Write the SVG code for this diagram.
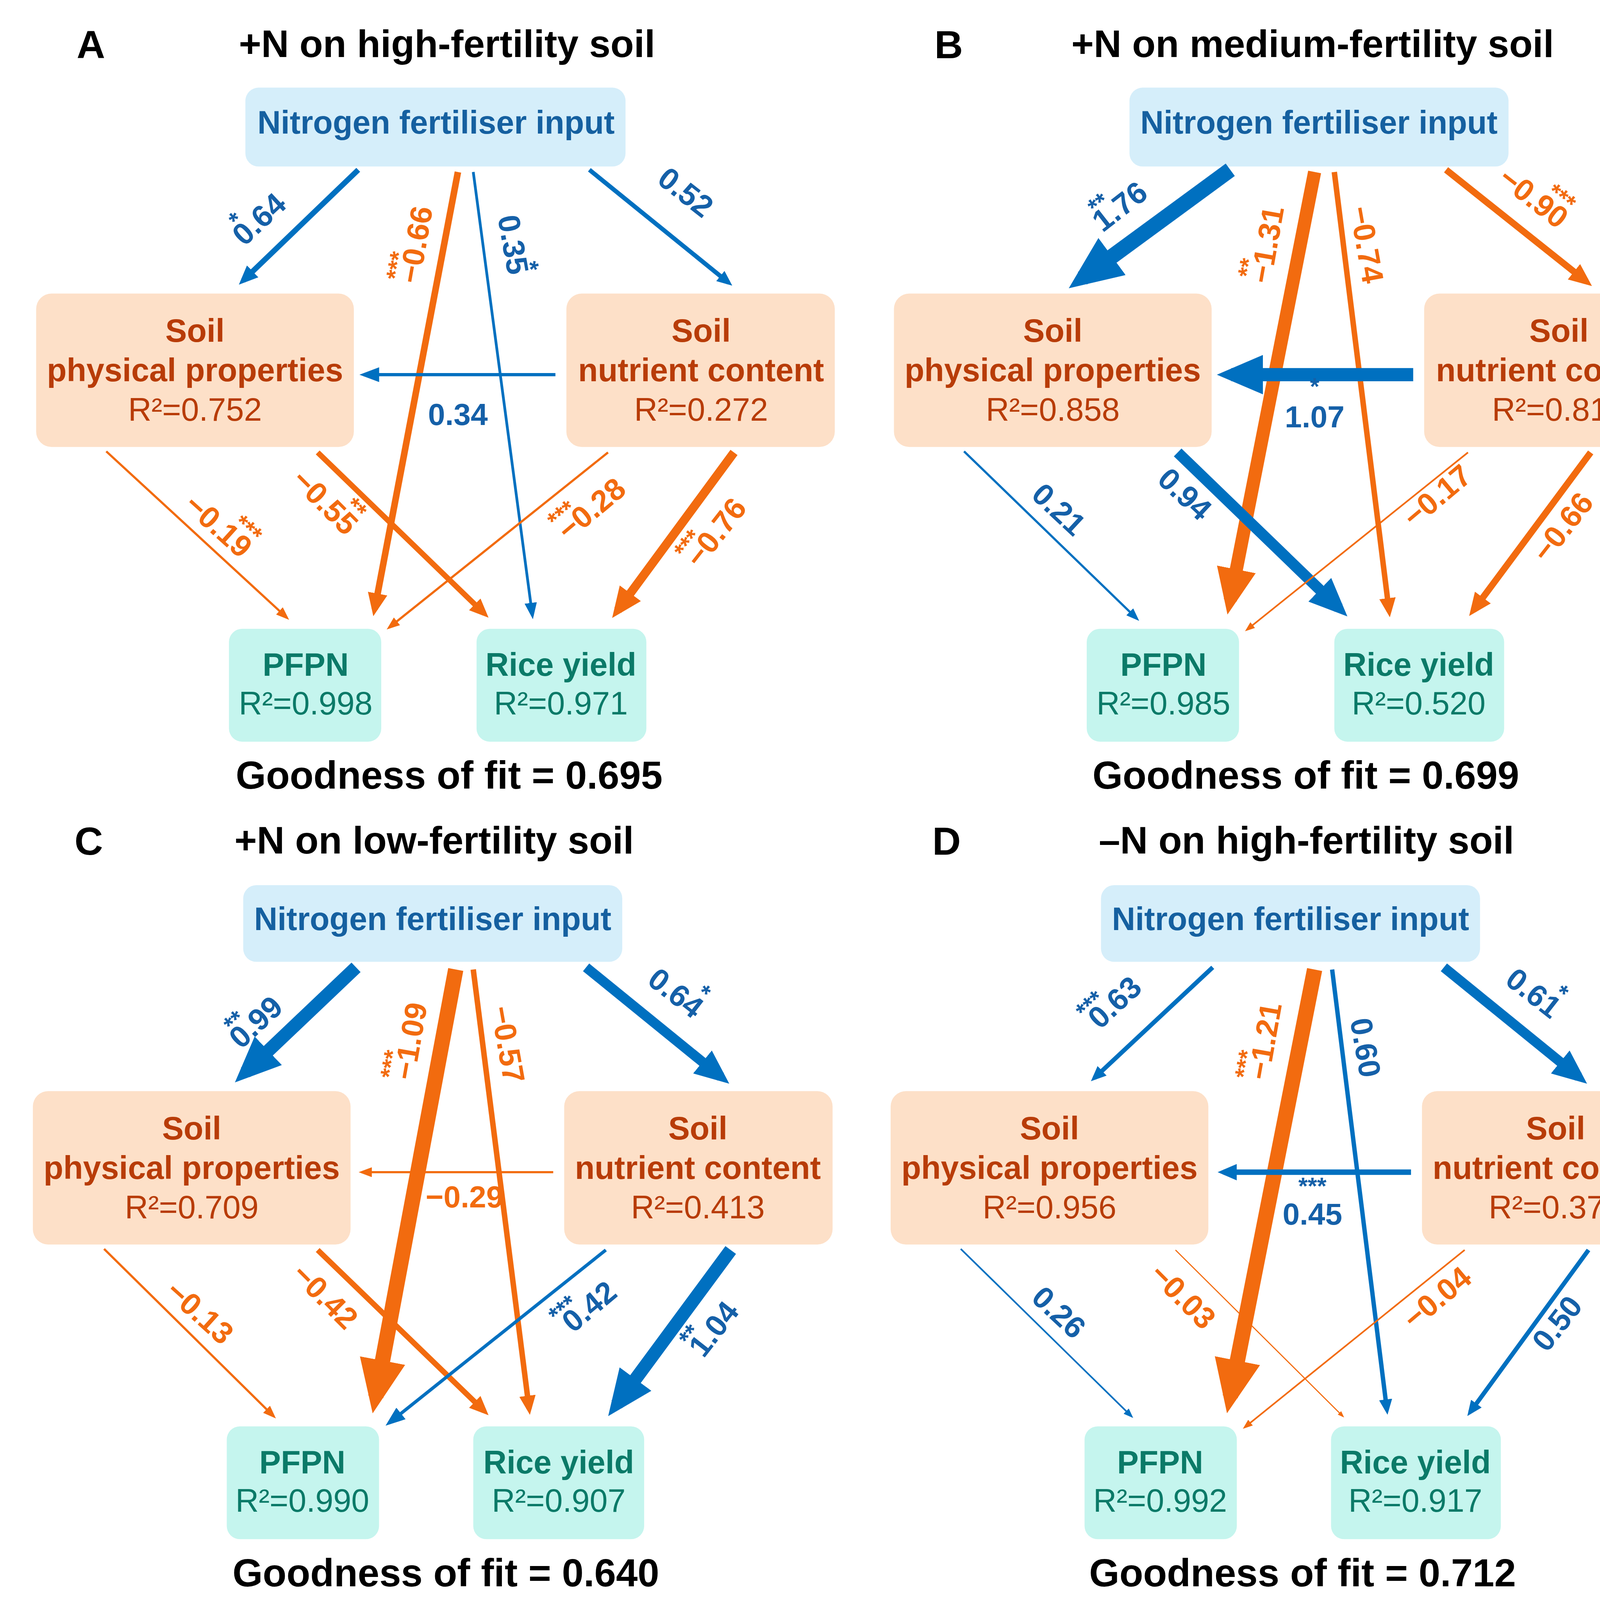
<svg xmlns="http://www.w3.org/2000/svg" width="4375" height="4266" viewBox="0 0 4375 4266">
<style>
text{font-family:"Liberation Sans",Arial,sans-serif}
.ttl{font-size:35px;font-weight:bold;fill:#000}
.pl{font-size:36px;font-weight:bold;fill:#000}
.nb{fill:#d5eefa}.nt{font-size:29.5px;font-weight:bold;fill:#1560a0;text-anchor:middle}
.sb{fill:#fde0c8}.st1{font-size:29.5px;font-weight:bold;fill:#b83c08;text-anchor:middle}.st2{font-size:29.5px;fill:#b83c08;text-anchor:middle}
.ob{fill:#c5f5ee}.ot1{font-size:29.5px;font-weight:bold;fill:#0b7a68;text-anchor:middle}.ot2{font-size:29.5px;fill:#0b7a68;text-anchor:middle}
.gf{font-size:35.5px;font-weight:bold;fill:#000;text-anchor:middle}
.b{stroke:#0070c0;fill:none}.o{stroke:#f26b0f;fill:none}
.lb{font-size:28px;font-weight:bold;fill:#1560a8;text-anchor:middle}
.lo{font-size:28px;font-weight:bold;fill:#f26b0f;text-anchor:middle}
.s{font-size:22px}
.lg{font-size:35px;fill:#000}
</style>
<defs>
<marker id="mb" viewBox="0 0 3.5 3" markerWidth="3.5" markerHeight="3" refX="2.4" refY="1.5" orient="auto" markerUnits="strokeWidth"><path d="M0,0L3.5,1.5L0,3z" fill="#0070c0"/></marker>
<marker id="mo" viewBox="0 0 3.5 3" markerWidth="3.5" markerHeight="3" refX="2.4" refY="1.5" orient="auto" markerUnits="strokeWidth"><path d="M0,0L3.5,1.5L0,3z" fill="#f26b0f"/></marker>
<marker id="sb" viewBox="0 0 6 4.5" markerWidth="6" markerHeight="4.5" refX="4.7" refY="2.25" orient="auto" markerUnits="strokeWidth"><path d="M0,0L6,2.25L0,4.5z" fill="#0070c0"/></marker>
<marker id="so" viewBox="0 0 6 4.5" markerWidth="6" markerHeight="4.5" refX="4.7" refY="2.25" orient="auto" markerUnits="strokeWidth"><path d="M0,0L6,2.25L0,4.5z" fill="#f26b0f"/></marker>
</defs>
<rect width="4375" height="4266" fill="#fff"/>
<g transform="scale(2.8045)">
<!-- Panel A -->
<text class="pl" x="70" y="53">A</text><text class="ttl" x="218" y="52">+N on high-fertility soil</text>
<g id="A-N"><rect class="nb" x="224" y="80" width="347" height="72" rx="12"/><text class="nt" x="398" y="122">Nitrogen fertiliser input</text></g>
<g id="A-SP"><rect class="sb" x="33" y="268" width="290" height="140" rx="14"/><text class="st1" x="178" y="312">Soil</text><text class="st1" x="178" y="348">physical properties</text><text class="st2" x="178" y="384">R²=0.752</text></g>
<g id="A-SN"><rect class="sb" x="517" y="268" width="245" height="140" rx="14"/><text class="st1" x="640" y="312">Soil</text><text class="st1" x="640" y="348">nutrient content</text><text class="st2" x="640" y="384">R²=0.272</text></g>
<g id="A-P"><rect class="ob" x="209" y="574" width="139" height="103" rx="12"/><text class="ot1" x="279" y="617">PFPN</text><text class="ot2" x="279" y="652">R²=0.998</text></g>
<g id="A-R"><rect class="ob" x="435" y="574" width="155" height="103" rx="12"/><text class="ot1" x="512" y="617">Rice yield</text><text class="ot2" x="512" y="652">R²=0.971</text></g>
<text class="gf" x="410" y="720">Goodness of fit = 0.695</text>
<g id="A-edges">
<line class="b" x1="327" y1="155" x2="222" y2="256" stroke-width="5" marker-end="url(#mb)"/>
<line class="o" x1="418" y1="157" x2="342" y2="556" stroke-width="6" marker-end="url(#mo)"/>
<line class="b" x1="432" y1="157" x2="486" y2="562" stroke-width="2.5" marker-end="url(#sb)"/>
<line class="b" x1="538" y1="155" x2="665" y2="258" stroke-width="4" marker-end="url(#mb)"/>
<line class="b" x1="507" y1="342" x2="332" y2="342" stroke-width="3" marker-end="url(#sb)"/>
<line class="o" x1="97" y1="412" x2="262" y2="564" stroke-width="2" marker-end="url(#so)"/>
<line class="o" x1="290" y1="413" x2="442" y2="560" stroke-width="5" marker-end="url(#mo)"/>
<line class="o" x1="555" y1="413" x2="355" y2="573" stroke-width="2" marker-end="url(#so)"/>
<line class="o" x1="670" y1="413" x2="564" y2="557" stroke-width="8" marker-end="url(#mo)"/>
<text class="lb" transform="translate(243,207) rotate(-43)"><tspan class="s" x="-16" dy="-16">*</tspan><tspan x="0" dy="16">0.64</tspan></text>
<text class="lo" transform="translate(389,225) rotate(-80)"><tspan class="s" x="-22" dy="-16">***</tspan><tspan x="0" dy="16">−0.66</tspan></text>
<text class="lb" transform="translate(459,225) rotate(80)"><tspan x="0">0.35</tspan><tspan class="s" x="22" dy="-14">*</tspan></text>
<text class="lb" transform="translate(620,183) rotate(38)">0.52</text>
<text class="lb" x="418" y="388">0.34</text>
<text class="lo" transform="translate(193,487) rotate(42)"><tspan x="0">−0.19</tspan><tspan class="s" x="22" dy="-18">***</tspan></text>
<text class="lo" transform="translate(290,465) rotate(45)"><tspan x="0">−0.55</tspan><tspan class="s" x="24" dy="-18">**</tspan></text>
<text class="lo" transform="translate(546,472) rotate(-40)"><tspan class="s" x="-24" dy="-16">***</tspan><tspan x="0" dy="16">−0.28</tspan></text>
<text class="lo" transform="translate(661,492) rotate(-52)"><tspan class="s" x="-24" dy="-16">***</tspan><tspan x="0" dy="16">−0.76</tspan></text>
</g>
<!-- Panel B -->
<text class="pl" x="853" y="53">B</text><text class="ttl" x="978" y="52">+N on medium-fertility soil</text>
<g id="B-N"><rect class="nb" x="1031" y="80" width="346" height="72" rx="12"/><text class="nt" x="1204" y="122">Nitrogen fertiliser input</text></g>
<g id="B-SP"><rect class="sb" x="816" y="268" width="290" height="140" rx="14"/><text class="st1" x="961" y="312">Soil</text><text class="st1" x="961" y="348">physical properties</text><text class="st2" x="961" y="384">R²=0.858</text></g>
<g id="B-SN"><rect class="sb" x="1300" y="268" width="245" height="140" rx="14"/><text class="st1" x="1423" y="312">Soil</text><text class="st1" x="1423" y="348">nutrient content</text><text class="st2" x="1423" y="384">R²=0.810</text></g>
<g id="B-P"><rect class="ob" x="992" y="574" width="139" height="103" rx="12"/><text class="ot1" x="1062" y="617">PFPN</text><text class="ot2" x="1062" y="652">R²=0.985</text></g>
<g id="B-R"><rect class="ob" x="1218" y="574" width="155" height="103" rx="12"/><text class="ot1" x="1295" y="617">Rice yield</text><text class="ot2" x="1295" y="652">R²=0.520</text></g>
<text class="gf" x="1192" y="720">Goodness of fit = 0.699</text>
<g id="B-edges">
<line class="b" x1="1123" y1="155" x2="988" y2="254" stroke-width="14" marker-end="url(#mb)"/>
<line class="o" x1="1200" y1="157" x2="1123" y2="548" stroke-width="12" marker-end="url(#mo)"/>
<line class="o" x1="1218" y1="157" x2="1268" y2="558" stroke-width="5" marker-end="url(#mo)"/>
<line class="o" x1="1320" y1="155" x2="1448" y2="257" stroke-width="6" marker-end="url(#mo)"/>
<line class="b" x1="1290" y1="342" x2="1124" y2="342" stroke-width="12" marker-end="url(#mb)"/>
<line class="b" x1="880" y1="412" x2="1038" y2="565" stroke-width="2" marker-end="url(#sb)"/>
<line class="b" x1="1075" y1="413" x2="1222" y2="555" stroke-width="10" marker-end="url(#mb)"/>
<line class="o" x1="1340" y1="413" x2="1138" y2="575" stroke-width="1.5" marker-end="url(#so)"/>
<line class="o" x1="1452" y1="413" x2="1345" y2="557" stroke-width="6" marker-end="url(#mo)"/>
<text class="lb" transform="translate(1028,196) rotate(-38)"><tspan class="s" x="-14" dy="-16">**</tspan><tspan x="0" dy="16">1.76</tspan></text>
<text class="lo" transform="translate(1166,225) rotate(-80)"><tspan class="s" x="-24" dy="-16">**</tspan><tspan x="0" dy="16">−1.31</tspan></text>
<text class="lo" transform="translate(1238,225) rotate(80)">−0.74</text>
<text class="lo" transform="translate(1394,188) rotate(38)"><tspan x="0">−0.90</tspan><tspan class="s" x="20" dy="-18">***</tspan></text>
<text class="lb" x="1200" y="390">1.07</text><text class="lb s" x="1200" y="360">*</text>
<text class="lb" transform="translate(960,472) rotate(43)">0.21</text>
<text class="lb" transform="translate(1075,458) rotate(43)">0.94</text>
<text class="lo" transform="translate(1318,460) rotate(-40)">−0.17</text>
<text class="lo" transform="translate(1434,487) rotate(-52)">−0.66</text>
</g>
<!-- Panel C -->
<text class="pl" x="68" y="780">C</text><text class="ttl" x="214" y="779">+N on low-fertility soil</text>
<g id="C-N"><rect class="nb" x="222" y="808" width="346" height="70" rx="12"/><text class="nt" x="395" y="849">Nitrogen fertiliser input</text></g>
<g id="C-SP"><rect class="sb" x="30" y="996" width="290" height="140" rx="14"/><text class="st1" x="175" y="1040">Soil</text><text class="st1" x="175" y="1076">physical properties</text><text class="st2" x="175" y="1112">R²=0.709</text></g>
<g id="C-SN"><rect class="sb" x="515" y="996" width="245" height="140" rx="14"/><text class="st1" x="637" y="1040">Soil</text><text class="st1" x="637" y="1076">nutrient content</text><text class="st2" x="637" y="1112">R²=0.413</text></g>
<g id="C-P"><rect class="ob" x="207" y="1302" width="139" height="103" rx="12"/><text class="ot1" x="276" y="1345">PFPN</text><text class="ot2" x="276" y="1380">R²=0.990</text></g>
<g id="C-R"><rect class="ob" x="432" y="1302" width="156" height="103" rx="12"/><text class="ot1" x="510" y="1345">Rice yield</text><text class="ot2" x="510" y="1380">R²=0.907</text></g>
<text class="gf" x="407" y="1448">Goodness of fit = 0.640</text>
<g id="C-edges">
<line class="b" x1="325" y1="883" x2="224" y2="979" stroke-width="12" marker-end="url(#mb)"/>
<line class="o" x1="416" y1="885" x2="343" y2="1275" stroke-width="14" marker-end="url(#mo)"/>
<line class="o" x1="432" y1="885" x2="483" y2="1286" stroke-width="5" marker-end="url(#mo)"/>
<line class="b" x1="535" y1="883" x2="658" y2="983" stroke-width="9" marker-end="url(#mb)"/>
<line class="o" x1="505" y1="1070" x2="330" y2="1070" stroke-width="2" marker-end="url(#so)"/>
<line class="o" x1="95" y1="1140" x2="250" y2="1293" stroke-width="2" marker-end="url(#so)"/>
<line class="o" x1="290" y1="1141" x2="442" y2="1288" stroke-width="5" marker-end="url(#mo)"/>
<line class="b" x1="553" y1="1141" x2="355" y2="1299" stroke-width="3" marker-end="url(#sb)"/>
<line class="b" x1="667" y1="1141" x2="563" y2="1282" stroke-width="12" marker-end="url(#mb)"/>
<text class="lb" transform="translate(240,940) rotate(-43)"><tspan class="s" x="-14" dy="-16">**</tspan><tspan x="0" dy="16">0.99</tspan></text>
<text class="lo" transform="translate(384,952) rotate(-80)"><tspan class="s" x="-24" dy="-16">***</tspan><tspan x="0" dy="16">−1.09</tspan></text>
<text class="lo" transform="translate(454,955) rotate(80)">−0.57</text>
<text class="lb" transform="translate(611,914) rotate(38)"><tspan x="0">0.64</tspan><tspan class="s" x="20" dy="-18">*</tspan></text>
<text class="lo" x="424" y="1102">−0.29</text>
<text class="lo" transform="translate(176,1205) rotate(42)">−0.13</text>
<text class="lo" transform="translate(290,1190) rotate(45)">−0.42</text>
<text class="lb" transform="translate(544,1200) rotate(-40)"><tspan class="s" x="-20" dy="-16">***</tspan><tspan x="0" dy="16">0.42</tspan></text>
<text class="lb" transform="translate(659,1219) rotate(-52)"><tspan class="s" x="-18" dy="-16">**</tspan><tspan x="0" dy="16">1.04</tspan></text>
</g>
<!-- Panel D -->
<text class="pl" x="851" y="780">D</text><text class="ttl" x="1003" y="779">–N on high-fertility soil</text>
<g id="D-N"><rect class="nb" x="1005" y="808" width="346" height="70" rx="12"/><text class="nt" x="1178" y="849">Nitrogen fertiliser input</text></g>
<g id="D-SP"><rect class="sb" x="813" y="996" width="290" height="140" rx="14"/><text class="st1" x="958" y="1040">Soil</text><text class="st1" x="958" y="1076">physical properties</text><text class="st2" x="958" y="1112">R²=0.956</text></g>
<g id="D-SN"><rect class="sb" x="1298" y="996" width="245" height="140" rx="14"/><text class="st1" x="1420" y="1040">Soil</text><text class="st1" x="1420" y="1076">nutrient content</text><text class="st2" x="1420" y="1112">R²=0.378</text></g>
<g id="D-P"><rect class="ob" x="990" y="1302" width="139" height="103" rx="12"/><text class="ot1" x="1059" y="1345">PFPN</text><text class="ot2" x="1059" y="1380">R²=0.992</text></g>
<g id="D-R"><rect class="ob" x="1215" y="1302" width="155" height="103" rx="12"/><text class="ot1" x="1292" y="1345">Rice yield</text><text class="ot2" x="1292" y="1380">R²=0.917</text></g>
<text class="gf" x="1189" y="1448">Goodness of fit = 0.712</text>
<g id="D-edges">
<line class="b" x1="1107" y1="883" x2="999" y2="984" stroke-width="4" marker-end="url(#mb)"/>
<line class="o" x1="1200" y1="885" x2="1123" y2="1275" stroke-width="14" marker-end="url(#mo)"/>
<line class="b" x1="1216" y1="885" x2="1266" y2="1287" stroke-width="4" marker-end="url(#mb)"/>
<line class="b" x1="1318" y1="883" x2="1441" y2="983" stroke-width="9" marker-end="url(#mb)"/>
<line class="b" x1="1288" y1="1070" x2="1117" y2="1070" stroke-width="5" marker-end="url(#mb)"/>
<line class="b" x1="877" y1="1140" x2="1033" y2="1293" stroke-width="1.5" marker-end="url(#sb)"/>
<line class="o" x1="1073" y1="1141" x2="1226" y2="1293" stroke-width="1" marker-end="url(#so)"/>
<line class="o" x1="1337" y1="1141" x2="1136" y2="1303" stroke-width="1.5" marker-end="url(#so)"/>
<line class="b" x1="1450" y1="1141" x2="1342" y2="1289" stroke-width="4" marker-end="url(#mb)"/>
<text class="lb" transform="translate(1024,922) rotate(-43)"><tspan class="s" x="-18" dy="-16">***</tspan><tspan x="0" dy="16">0.63</tspan></text>
<text class="lo" transform="translate(1164,952) rotate(-80)"><tspan class="s" x="-24" dy="-16">***</tspan><tspan x="0" dy="16">−1.21</tspan></text>
<text class="lb" transform="translate(1237,958) rotate(80)">0.60</text>
<text class="lb" transform="translate(1394,914) rotate(38)"><tspan x="0">0.61</tspan><tspan class="s" x="20" dy="-18">*</tspan></text>
<text class="lb" x="1198" y="1118">0.45</text><text class="lb s" x="1198" y="1090">***</text>
<text class="lb" transform="translate(960,1205) rotate(43)">0.26</text>
<text class="lo" transform="translate(1073,1190) rotate(45)">−0.03</text>
<text class="lo" transform="translate(1318,1192) rotate(-40)">−0.04</text>
<text class="lb" transform="translate(1429,1214) rotate(-52)">0.50</text>
</g>
<g id="legend">
<line class="b" x1="843" y1="1483" x2="932" y2="1483" stroke-width="5"/><text class="lg" x="946" y="1495">Positive</text>
<line class="o" x1="1137" y1="1483" x2="1225" y2="1483" stroke-width="5"/><text class="lg" x="1238" y="1495">Negative</text>
</g>
</g>
</svg>
